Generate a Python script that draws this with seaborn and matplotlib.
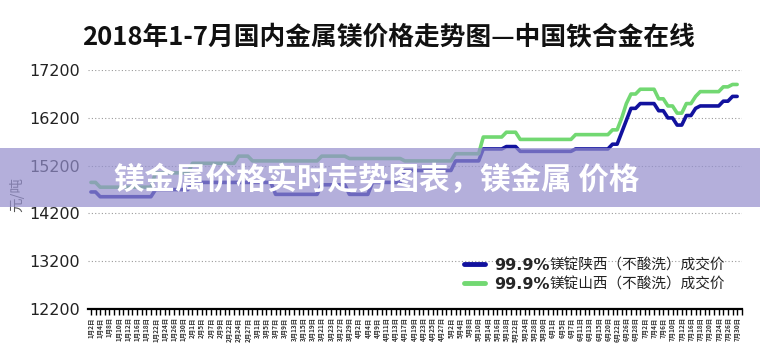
import matplotlib
matplotlib.use("Agg")
import matplotlib.pyplot as plt
import seaborn as sns
import pandas as pd
from matplotlib.patches import Rectangle
from matplotlib.lines import Line2D

# ---------------- data ----------------
title = "2018年1-7月国内金属镁价格走势图—中国铁合金在线"
banner = "镁金属价格实时走势图表，镁金属 价格"
series_names = ["99.9%镁锭陕西（不酸洗）成交价", "99.9%镁锭山西（不酸洗）成交价"]

date_labels = [
    "1月2日", "1月4日", "1月8日", "1月10日", "1月12日", "1月16日", "1月18日", "1月22日", "1月24日", "1月26日", "1月30日",
    "2月1日", "2月5日", "2月7日", "2月9日", "2月22日", "2月24日", "2月27日",
    "3月1日", "3月5日", "3月7日", "3月9日", "3月13日", "3月15日", "3月19日", "3月21日", "3月23日", "3月27日", "3月29日",
    "4月2日", "4月4日", "4月9日", "4月11日", "4月13日", "4月17日", "4月19日", "4月23日", "4月25日", "4月27日",
    "5月2日", "5月4日", "5月8日", "5月10日", "5月14日", "5月16日", "5月18日", "5月22日", "5月24日", "5月28日", "5月30日",
    "6月1日", "6月5日", "6月7日", "6月11日", "6月13日", "6月15日", "6月20日", "6月22日", "6月26日", "6月28日",
    "7月2日", "7月4日", "7月6日", "7月10日", "7月12日", "7月16日", "7月18日", "7月20日", "7月24日", "7月26日", "7月30日",
]

shaanxi = [
    14650, 14650,
    14550, 14550, 14550, 14550, 14550, 14550, 14550, 14550, 14550, 14550, 14550, 14550,
    14700, 14700, 14700, 14700, 14700, 14700, 14700, 14700,
    14850, 14850, 14850, 14850, 14850, 14850, 14850, 14850, 14850, 14850, 14850, 14850, 14850, 14850, 14850, 14850, 14850, 14850,
    14600, 14600, 14600, 14600, 14600, 14600, 14600, 14600, 14600, 14600,
    14800, 14800, 14800, 14800, 14800, 14800,
    14600, 14600, 14600, 14600, 14600,
    14850, 14850, 14850, 14850, 14850, 14850, 14850,
    15100, 15100, 15100, 15100, 15100, 15100, 15100, 15100, 15100, 15100, 15100,
    15300, 15300, 15300, 15300, 15300, 15300,
    15550, 15550, 15550, 15550, 15550,
    15600, 15600, 15600,
    15500, 15500, 15500, 15500, 15500, 15500, 15500, 15500, 15500, 15500, 15500, 15500,
    15550, 15550, 15550, 15550, 15550, 15550, 15550, 15550,
    15650, 15650,
    15900, 16150, 16400, 16400,
    16500, 16500, 16500, 16500,
    16350, 16350, 16200, 16200, 16050, 16050, 16250, 16250, 16400,
    16450, 16450, 16450, 16450, 16450,
    16550, 16550, 16650, 16650,
]

shanxi = [
    14850, 14850,
    14750, 14750, 14750, 14750, 14750, 14750, 14750, 14750, 14750, 14750, 14750, 14750,
    15050, 15050, 15050, 15050, 15050, 15050, 15050, 15050,
    15250, 15250, 15250, 15250, 15250, 15250, 15250, 15250, 15250, 15250,
    15400, 15400, 15400,
    15300, 15300, 15300, 15300, 15300, 15300, 15300, 15300, 15300, 15300, 15300, 15300, 15300, 15300, 15300,
    15400, 15400, 15400, 15400, 15400, 15400,
    15350, 15350, 15350, 15350, 15350, 15350, 15350, 15350, 15350, 15350, 15350, 15350,
    15300, 15300, 15300, 15300, 15300, 15300, 15300, 15300, 15300, 15300, 15300,
    15450, 15450, 15450, 15450, 15450, 15450,
    15800, 15800, 15800, 15800, 15800,
    15900, 15900, 15900,
    15750, 15750, 15750, 15750, 15750, 15750, 15750, 15750, 15750, 15750, 15750, 15750,
    15850, 15850, 15850, 15850, 15850, 15850, 15850, 15850,
    15950, 15950,
    16200, 16500, 16700, 16700,
    16800, 16800, 16800, 16800,
    16600, 16600, 16450, 16450, 16300, 16300, 16500, 16500, 16650,
    16750, 16750, 16750, 16750, 16750,
    16850, 16850, 16900, 16900,
]

y_ticks = [12200, 13200, 14200, 15200, 16200, 17200]

# ---------------- style ----------------
sns.set_style("white")
plt.rcParams["font.family"] = ["Noto Sans CJK SC", "DejaVu Sans"]

colors = {series_names[0]: "#12129e", series_names[1]: "#72d872"}

n = len(shaanxi)
df = pd.DataFrame({
    "idx": list(range(n)) * 2,
    "price": shaanxi + shanxi,
    "series": [series_names[0]] * n + [series_names[1]] * n,
})

fig = plt.figure(figsize=(7.6, 3.56), dpi=100)
ax = fig.add_axes([0.116, 0.132, 0.86, 0.671])

sns.lineplot(data=df, x="idx", y="price", hue="series", palette=colors,
             linewidth=2.6, legend=False, ax=ax, zorder=3)

ax.set_ylim(12200, 17200)
ax.set_xlim(-0.6, 141)
ax.set_yticks(y_ticks)
ax.set_yticklabels([str(v) for v in y_ticks], fontsize=11.5, color="#222222",
                   family=["DejaVu Sans"])
ax.tick_params(axis="y", length=0, pad=6)
ax.grid(axis="y", linestyle=(0, (1, 2)), color="#9a9a9a", linewidth=0.8)
ax.grid(axis="x", visible=False)

ticks = list(range(n + 1))
tick_labels = []
for i in ticks:
    tick_labels.append(date_labels[i // 2] if i % 2 == 0 and i // 2 < len(date_labels) else "")
ax.set_xticks(ticks)
ax.set_xticklabels(tick_labels, rotation=90, fontsize=4.6, fontweight="bold", color="#333333")
ax.tick_params(axis="x", length=4, width=1, color="black", direction="out", pad=2, bottom=True)

for s in ["top", "right", "left"]:
    ax.spines[s].set_visible(False)
ax.spines["bottom"].set_color("black")
ax.spines["bottom"].set_linewidth(1.6)

ax.set_xlabel("")
ax.set_ylabel("元/吨", fontsize=10.5, color="#555555", labelpad=4)
ax.yaxis.set_label_coords(-0.098, 0.48)

# title
fig.text(0.511, 0.895, title, ha="center", va="center", fontsize=18.5, fontweight="bold", color="#111111")

# legend (bold "99.9%" + normal rest)
handles = [Line2D([0], [0], color=colors[s], linewidth=3.5) for s in series_names]
leg = ax.legend(handles, ["99.9%", "99.9%"], loc="upper left", bbox_to_anchor=(0.553, 0.275),
                frameon=False, handlelength=1.3, handletextpad=0.6, labelspacing=0.25,
                prop={"size": 11.5, "weight": "bold", "family": ["DejaVu Sans"]})
fig.canvas.draw()
for txt, s in zip(leg.get_texts(), series_names):
    ax.annotate(s.replace("99.9%", ""), xy=(1, 0.5), xycoords=txt, va="center", ha="left",
                fontsize=10.5, color="#222222")

# banner overlay
fig.add_artist(Rectangle((0, 0.4185), 1, 0.1657, transform=fig.transFigure,
                         facecolor="#948ecd", alpha=0.7, edgecolor="none", zorder=5))
fig.text(0.496, 0.494, banner, ha="center", va="center", fontsize=22, fontweight="bold",
         color="white", zorder=6)

fig.savefig("out.png", dpi=100)
